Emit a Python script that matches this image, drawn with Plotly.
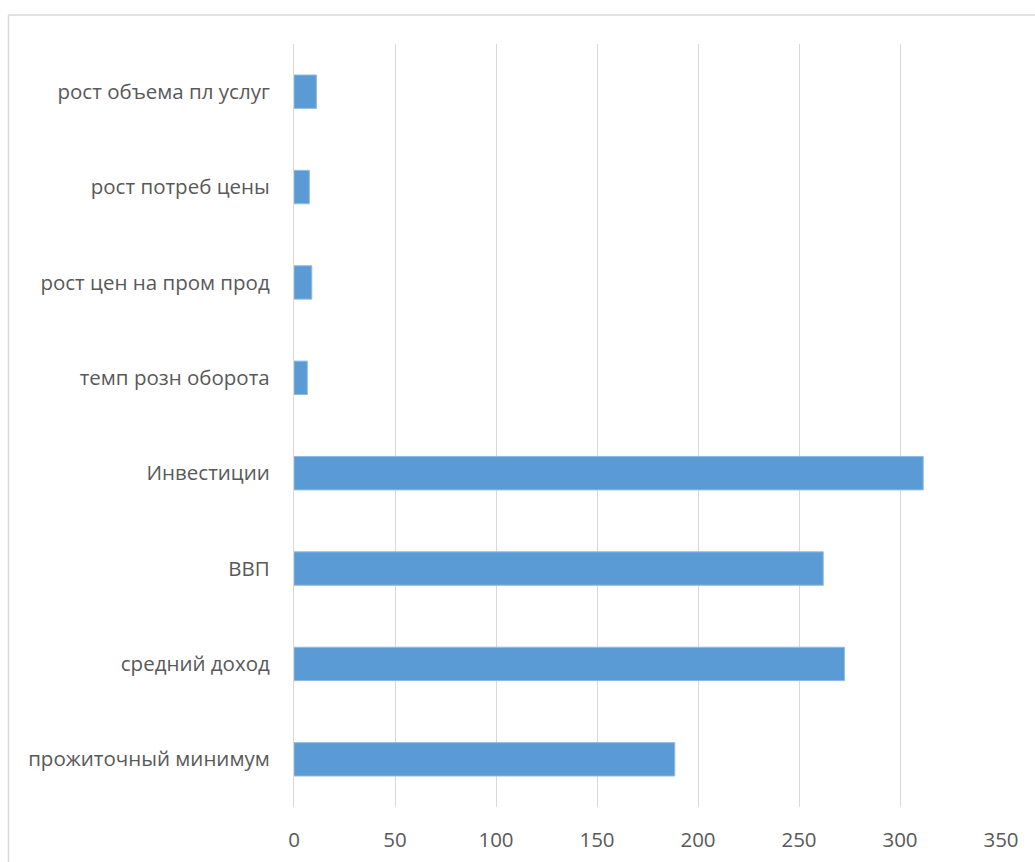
import plotly.graph_objects as go

categories = [
    "прожиточный минимум",
    "средний доход",
    "ВВП",
    "Инвестиции",
    "темп розн оборота",
    "рост цен на пром прод",
    "рост потреб цены",
    "рост объема пл услуг",
]
values = [188.5, 272.5, 262.0, 311.5, 6.6, 8.8, 7.6, 11.1]
x_ticks = [0, 50, 100, 150, 200, 250, 300, 350]

W, H = 1035, 862
L, R, T, B = 294, 34, 44, 55
pw, ph = W - L - R, H - T - B

fig = go.Figure(
    go.Bar(
        y=categories,
        x=values,
        orientation="h",
        marker=dict(color="#5b9bd5", line=dict(color="#8fbbe3", width=1)),
        width=0.35,
    )
)

def px_x(p):
    return (p - L) / pw

def px_y(p):
    return (H - B - p) / ph

fig.update_layout(
    width=W,
    height=H,
    margin=dict(l=L, r=R, t=T, b=B, pad=0, autoexpand=False),
    paper_bgcolor="white",
    plot_bgcolor="white",
    showlegend=False,
    font=dict(family="Open Sans", size=20.5, color="#595959"),
    xaxis=dict(
        range=[0, 350],
        tickvals=x_ticks,
        ticktext=[str(v) for v in x_ticks],
        showgrid=True,
        gridcolor="#d9d9d9",
        gridwidth=1.3,
        zeroline=False,
        showline=False,
        ticks="outside",
        ticklen=14,
        tickcolor="rgba(0,0,0,0)",
        tickfont=dict(size=20.5, color="#595959"),
        automargin=False,
        fixedrange=True,
    ),
    yaxis=dict(
        range=[-0.5, 7.5],
        showgrid=False,
        showline=True,
        linecolor="#d9d9d9",
        linewidth=1.3,
        ticks="outside",
        ticklen=19,
        tickcolor="rgba(0,0,0,0)",
        tickfont=dict(size=20.5, color="#595959"),
        automargin=False,
        fixedrange=True,
    ),
    shapes=[
        dict(type="line", xref="paper", yref="paper",
             x0=px_x(8.5), x1=px_x(8.5), y0=px_y(15), y1=px_y(900),
             line=dict(color="#d9d9d9", width=1.5)),
        dict(type="line", xref="paper", yref="paper",
             x0=px_x(8.5), x1=px_x(1100), y0=px_y(15), y1=px_y(15),
             line=dict(color="#d9d9d9", width=1.5)),
    ],
)

fig.write_html("out.html")
